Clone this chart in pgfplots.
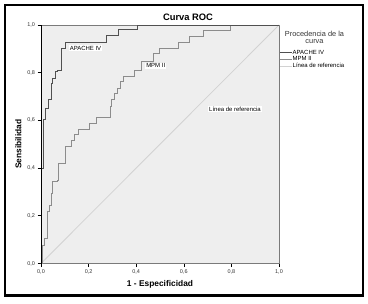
\documentclass[border=0pt]{standalone}
\usepackage{pgfplots}
\pgfplotsset{compat=1.18}
\usepackage{fontspec}
\setmainfont{Liberation Sans}
\definecolor{bgcol}{HTML}{EEEEEE}
\definecolor{framecol}{HTML}{7A7A7A}
\definecolor{apachecol}{HTML}{505050}
\definecolor{mpmcol}{HTML}{8C8C8C}
\definecolor{refcol}{HTML}{D2D2D2}
\begin{document}
\begin{tikzpicture}[x=1bp,y=1bp]
\path (0,0) rectangle (368,304);
\draw[black, line width=2bp] (5,8.5) rectangle (363,299);
\node[font=\bfseries\fontsize{9.4}{11}\selectfont, anchor=base] at (188,283.5) {Curva ROC};
\node[font=\fontsize{7.4}{7.6}\selectfont, align=center, anchor=north, text=black!80, inner sep=0pt] at (314.5,273.5) {Procedencia de la\\curva};
\begin{axis}[
  at={(41bp,40.5bp)}, anchor=south west,
  scale only axis, width=238bp, height=238.5bp,
  xmin=0, xmax=1, ymin=0, ymax=1,
  axis background/.style={fill=bgcol},
  axis line style={draw=framecol, line width=0.8bp},
  xtick={0,0.2,0.4,0.6,0.8,1}, ytick={0,0.2,0.4,0.6,0.8,1},
  xtick pos=bottom, ytick pos=left,
  tick align=outside, major tick length=3.5bp,
  tick style={black, line width=0.6bp},
  tick label style={font=\fontsize{5.5}{6}\selectfont, text=black!80},
  xticklabel style={yshift=1bp},
  yticklabel style={xshift=1bp},
  /pgf/number format/use comma,
  /pgf/number format/fixed,
  /pgf/number format/fixed zerofill,
  /pgf/number format/precision=1,
  /pgf/number format/assume math mode=true,
  xlabel={1 - Especificidad},
  ylabel={Sensibilidad},
  xlabel style={font=\bfseries\fontsize{8.4}{10}\selectfont, at={(axis description cs:0.5,0)}, anchor=base, yshift=-22.5bp},
  ylabel style={font=\bfseries\fontsize{8.4}{10}\selectfont, at={(axis description cs:0,0.5)}, anchor=base, yshift=19.5bp},
  legend style={at={(axis description cs:1.0042,0.8969)}, anchor=north west, draw=none, fill=none,
    inner sep=0pt, outer sep=0pt, row sep=0.7bp,
    font=\fontsize{6}{7}\selectfont,
    nodes={inner sep=0.3bp, text height=4.3bp, text depth=1.2bp}},
  legend cell align=left,
  legend image code/.code={\draw[#1] (0bp,0bp) -- (11.5bp,0bp);},
  clip=false,
]
\addplot[refcol, line width=0.8bp, forget plot] coordinates {(0,0) (1,1)};
\addplot[mpmcol, line width=0.9bp, const plot mark left, forget plot] coordinates {
(0,0) (0.007,0.075) (0.013,0.104) (0.025,0.217) (0.036,0.245) (0.046,0.294)
(0.050,0.343) (0.068,0.350) (0.074,0.420) (0.101,0.490) (0.129,0.518)
(0.139,0.543) (0.157,0.563) (0.203,0.588) (0.231,0.611) (0.290,0.660)
(0.297,0.686) (0.308,0.711) (0.320,0.735) (0.332,0.762) (0.345,0.783)
(0.391,0.811) (0.423,0.846) (0.472,0.881) (0.497,0.902) (0.579,0.926)
(0.623,0.954) (0.681,0.977) (0.797,1) (1,1)};
\addplot[apachecol, line width=0.9bp, const plot mark left, forget plot] coordinates {
(0,0) (0,0.4) (0.010,0.606) (0.018,0.651) (0.032,0.686) (0.042,0.755)
(0.049,0.776) (0.060,0.804) (0.070,0.811) (0.084,0.895) (0.088,0.902)
(0.102,0.926) (0.273,0.958) (0.326,0.980) (0.406,1) (1,1)};
\addlegendimage{draw=apachecol, line width=0.9bp}
\addlegendentry{APACHE IV}
\addlegendimage{draw=mpmcol, line width=0.9bp}
\addlegendentry{MPM II}
\addlegendimage{draw=refcol, line width=0.9bp}
\addlegendentry{Línea de referencia}
\draw[black, line width=1bp] (rel axis cs:0,0) -- (rel axis cs:0,1);
\node[fill=white, inner sep=0.8bp, font=\fontsize{6}{7}\selectfont] at (axis cs:0.187,0.902) {APACHE IV};
\node[fill=white, inner sep=0.8bp, font=\fontsize{6}{7}\selectfont] at (axis cs:0.482,0.829) {MPM II};
\node[fill=white, inner sep=0.8bp, font=\fontsize{6}{7}\selectfont] at (axis cs:0.815,0.647) {Línea de referencia};
\end{axis}
\end{tikzpicture}
\end{document}
